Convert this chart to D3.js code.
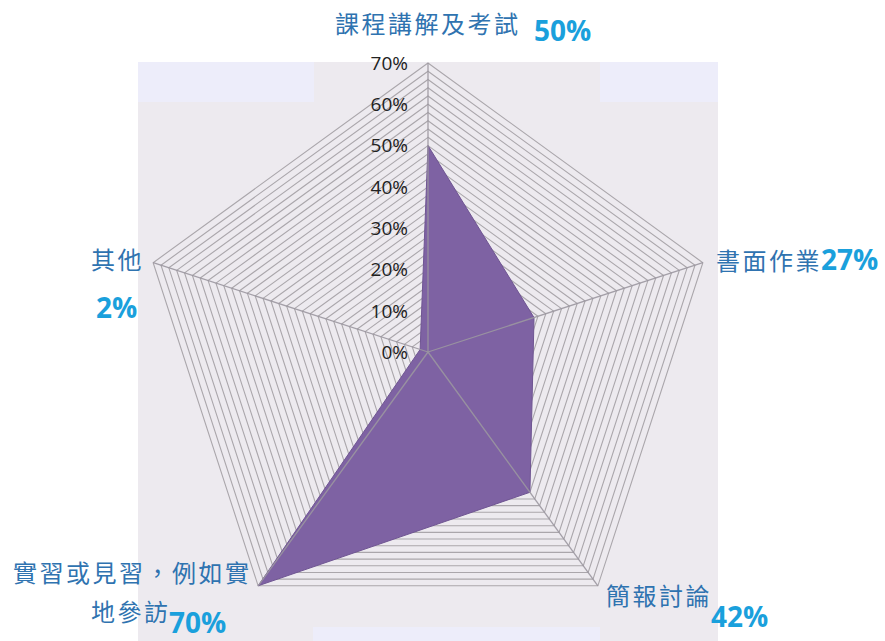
<!DOCTYPE html>
<html lang="zh-Hant-TW"><head><meta charset="utf-8">
<script src="https://cdn.jsdelivr.net/npm/d3@7"></script>
<style>body{margin:0;background:#fff}svg{display:block}</style>
</head><body>
<svg id="c" width="885" height="641" lang="zh-Hant-TW"></svg>
<script>
const categories = ["課程講解及考試","書面作業","簡報討論","實習或見習，例如實地參訪","其他"];
const values = [50, 27, 42, 70, 2];
const valueLabels = ["50%","27%","42%","70%","2%"];
const tickValues = [0,10,20,30,40,50,60,70];
const gridStep = 2;

const svg = d3.select("#c");
const cx = 428, cy = 352, R = 289;
const r = d3.scaleLinear().domain([0,70]).range([0,R]);
const ang = d3.scaleLinear().domain([0,categories.length]).range([0,2*Math.PI]);
const pt = (i,v)=>[cx + r(v)*Math.sin(ang(i)), cy - r(v)*Math.cos(ang(i))];

// background
svg.append("rect").attr("x",138).attr("y",62).attr("width",580).attr("height",579).attr("fill","#edeaef");
[[138,62,176,40],[600,62,118,40],[313,627,287,14]].forEach(d=>{
  svg.append("rect").attr("x",d[0]).attr("y",d[1]).attr("width",d[2]).attr("height",d[3]).attr("fill","#ededfa");
});

const line = d3.line();
const idx = d3.range(categories.length);
// grid pentagons
const levels = d3.range(gridStep, 70+0.01, gridStep);
svg.append("g").selectAll("path").data(levels).join("path")
  .attr("d", v => line(idx.map(i=>pt(i,v))) + "Z")
  .attr("fill","none").attr("stroke","#aaa6ab").attr("stroke-width",1.1);

// data polygon
svg.append("path").attr("d", line(idx.map(i=>pt(i,values[i]))) + "Z")
  .attr("fill","#7e62a3").attr("stroke","#6f5592").attr("stroke-width",1);

// axes
svg.append("g").selectAll("line").data(idx).join("line")
  .attr("x1",cx).attr("y1",cy)
  .attr("x2",i=>pt(i,70)[0]).attr("y2",i=>pt(i,70)[1])
  .attr("stroke","#9b97a0").attr("stroke-width",1.3).attr("stroke-opacity",0.9);

// tick labels
svg.append("g").selectAll("text").data(tickValues).join("text")
  .attr("x",408).attr("y",v=>cy - r(v)).attr("dy","0.36em")
  .attr("text-anchor","end").attr("font-family","'Open Sans', sans-serif")
  .attr("font-size",19).attr("fill","#222").text(v=>v+"%");

// category labels
const catFont = "'Noto Sans CJK TC','Noto Sans CJK SC',sans-serif";
const numFont = "'Open Sans','Noto Sans',sans-serif";
const catCol = "#2f73b0", numCol = "#1aa0dc";
function cat(x,y,t,anchor){
  svg.append("text").attr("x",x).attr("y",y).attr("text-anchor",anchor||"start")
    .attr("lang","zh-Hant-TW")
    .attr("font-family",catFont).attr("font-size",24).attr("letter-spacing",2.5)
    .attr("fill",catCol).text(t);
}
function num(x,y,t,anchor){
  svg.append("text").attr("x",x).attr("y",y).attr("text-anchor",anchor||"start")
    .attr("font-family",numFont).attr("font-weight","bold").attr("font-size",28)
    .attr("fill",numCol).text(t);
}
cat(335,33,categories[0]); num(534,41,valueLabels[0]);
cat(716,270,categories[1]); num(821,270,valueLabels[1]);
cat(606,605,categories[2]); num(711,627,valueLabels[2]);
cat(13,582,categories[3].slice(0,9)); cat(91,621,categories[3].slice(9)); num(169,633,valueLabels[3]);
cat(144,269,categories[4],"end"); num(96,318,valueLabels[4]);
</script>
</body></html>
